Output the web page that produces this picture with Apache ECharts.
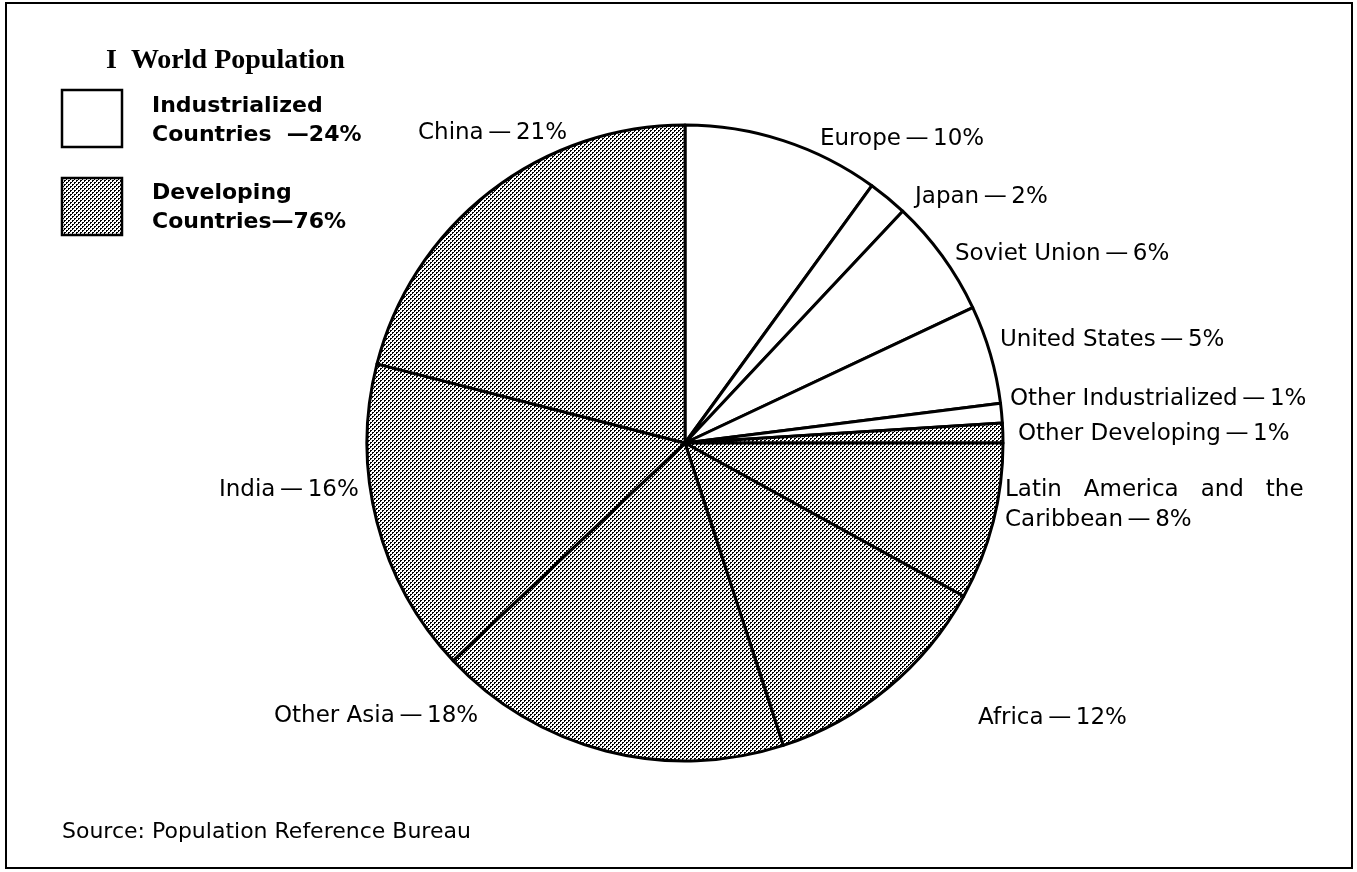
<!DOCTYPE html>
<html>
<head>
<meta charset="utf-8">
<script src="https://cdn.jsdelivr.net/npm/echarts@6/dist/echarts.min.js"></script>
<style>
html, body { margin: 0; padding: 0; background: #fff; }
#main { width: 1357px; height: 872px; }
</style>
</head>
<body>
<div id="main"></div>
<script>
// data, clockwise from 12 o'clock
var regions = ['Europe', 'Japan', 'Soviet Union', 'United States', 'Other Industrialized',
	'Other Developing', 'Latin America and the Caribbean', 'Africa', 'Other Asia', 'India', 'China'];
var shares = [10, 2, 6, 5, 1, 1, 8, 12, 18, 16, 21];
var isDeveloping = [0, 0, 0, 0, 0, 1, 1, 1, 1, 1, 1];
var groupNames = ['Industrialized', 'Developing'];
var groupShares = [24, 76];

// where each label sits (left edge, middle)
var labelPos = [[820, 139], [915, 197], [955, 254], [1000, 340], [1010, 399],
	[1018, 434], [1005, 505], [978, 718], [274, 716], [219, 490], [418, 133]];

var DASH = '\u2009\u2014\u2009';

// halftone dots for developing countries
var cv = document.createElement('canvas');
cv.width = 4; cv.height = 4;
var cx = cv.getContext('2d');
cx.fillStyle = '#fff';
cx.fillRect(0, 0, 4, 4);
cx.fillStyle = '#000';
cx.fillRect(0, 0, 2, 1);
cx.fillRect(0, 1, 1, 1);
cx.fillRect(2, 2, 2, 1);
cx.fillRect(2, 3, 1, 1);
var dots = { image: cv, repeat: 'repeat' };

var pieData = regions.map(function (r, i) {
	return {
		name: r,
		value: shares[i],
		itemStyle: { color: isDeveloping[i] ? dots : '#fff' }
	};
});

function labelText(p) {
	if (p.name === 'Latin America and the Caribbean') {
		return 'Latin   America   and   the\nCaribbean' + DASH + p.value + '%';
	}
	return p.name + DASH + p.value + '%';
}

var myChart = echarts.init(document.getElementById('main'));
var option = {
	animation: false,
	backgroundColor: '#fff',
	title: {
		text: 'I  World Population',
		left: 101,
		top: 42,
		textStyle: { fontFamily: 'Liberation Serif', fontWeight: 'bold', fontSize: 28, color: '#000' }
	},
	graphic: [
		{ type: 'rect', shape: { x: 6, y: 3, width: 1346, height: 865 }, style: { fill: 'none', stroke: '#000', lineWidth: 2 }, silent: true },
		{ type: 'rect', shape: { x: 62, y: 90, width: 60, height: 57 }, style: { fill: '#fff', stroke: '#000', lineWidth: 2.5 } },
		{ type: 'rect', shape: { x: 62, y: 178, width: 60, height: 57 }, style: { fill: dots, stroke: '#000', lineWidth: 2.5 } },
		{ type: 'text', x: 152, y: 121, style: { text: groupNames[0] + '\nCountries  \u2014' + groupShares[0] + '%', fontFamily: 'DejaVu Sans', fontWeight: 'bold', fontSize: 22, lineHeight: 29, fill: '#000', verticalAlign: 'middle' } },
		{ type: 'text', x: 152, y: 208, style: { text: groupNames[1] + '\nCountries\u2014' + groupShares[1] + '%', fontFamily: 'DejaVu Sans', fontWeight: 'bold', fontSize: 22, lineHeight: 29, fill: '#000', verticalAlign: 'middle' } },
		{ type: 'text', x: 62, y: 832, style: { text: 'Source: Population Reference Bureau', fontFamily: 'DejaVu Sans', fontSize: 22, fill: '#000', verticalAlign: 'middle' } }
	],
	series: [{
		type: 'pie',
		center: [685, 443],
		radius: [0, 318],
		startAngle: 90,
		clockwise: true,
		avoidLabelOverlap: false,
		itemStyle: { borderColor: '#000', borderWidth: 3 },
		label: {
			show: true,
			position: 'outside',
			formatter: labelText,
			fontFamily: 'DejaVu Sans',
			fontSize: 23,
			lineHeight: 30,
			color: '#000'
		},
		labelLine: { show: false },
		labelLayout: function (p) {
			var pos = labelPos[p.dataIndex];
			return { x: pos[0], y: pos[1], align: 'left', verticalAlign: 'middle' };
		},
		emphasis: { disabled: true },
		data: pieData
	}]
};
myChart.setOption(option);
</script>
</body>
</html>
